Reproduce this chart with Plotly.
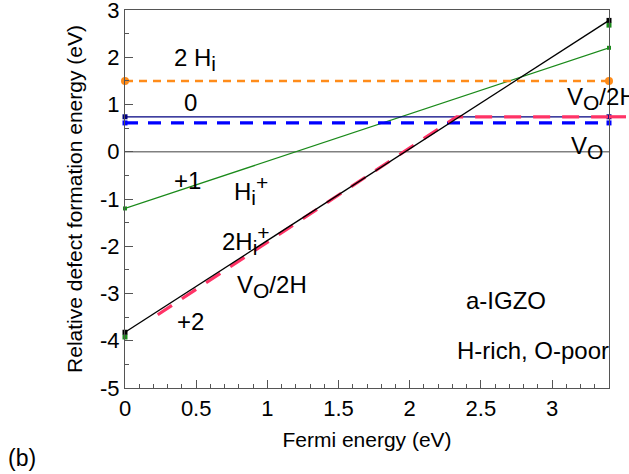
import plotly.graph_objects as go

# ---- data ----
x_range = [0.0, 3.4]
x_ext = 3.55                     # pink V_O/2H line runs past the frame

vo_neutral_y = [0.0, 0.0]        # V_O (0)
vo_plus2_y = [-3.82, 2.78]       # V_O (+2)
hi_plus_y = [-1.2, 2.2]          # H_i (+1)
two_hi_plus_y = [-3.92, 2.68]    # 2H_i (+) end points
two_hi_y = [1.5, 1.5]            # 2 H_i (neutral)
hi_neutral_y = [0.74, 0.74]      # H_i (0)
vo2h_neutral_y = [0.61, 0.61]    # V_O/2H (0)

vo2h_x = [0.23, 2.33, 3.4]       # V_O/2H (+2 then 0)
vo2h_y = [-3.45, 0.74, 0.74]

x_ticks = [0, 0.5, 1, 1.5, 2, 2.5, 3]
y_ticks = [-5, -4, -3, -2, -1, 0, 1, 2, 3]

FONT = "Liberation Sans, Arial, sans-serif"
LS = 24  # label font size

def sub(t):
    return f'<sub><span style="font-size:{LS-3}px">{t}</span></sub>'

def sup(t):
    return f'<sup><span style="font-size:{LS-3}px">{t}</span></sup>'

fig = go.Figure()

def add(x, y, color, width, dash="solid", msize=4, msym="square"):
    fig.add_trace(go.Scatter(
        x=x, y=y, mode="lines+markers" if msize else "lines",
        line=dict(color=color, width=width, dash=dash),
        marker=dict(color=color, size=msize, symbol=msym),
        cliponaxis=False, showlegend=False, hoverinfo="skip"))

add(x_range, vo_neutral_y, "#808080", 1.3, msize=0)
add(x_range, hi_plus_y, "#1a8a1a", 1.3)
fig.add_trace(go.Scatter(x=x_range, y=two_hi_plus_y, mode="markers",
                         marker=dict(color="#1a8a1a", size=5, symbol="square"),
                         cliponaxis=False, showlegend=False, hoverinfo="skip"))
add(x_range, two_hi_y, "#ff8c1a", 2.5, dash="8px,6px", msize=8, msym="circle")
add(x_range, hi_neutral_y, "#000080", 1.3, msize=5)
add(x_range, vo2h_neutral_y, "#0000ff", 3.2, dash="13px,10px", msize=5)
fig.add_trace(go.Scatter(x=vo2h_x, y=vo2h_y, mode="lines",
                         line=dict(color="#ff3366", width=3.2, dash="17px,12px"),
                         showlegend=False, hoverinfo="skip"))
add(x_range, vo_plus2_y, "#000000", 1.3, msize=5)

# pink line continues past the right frame
fig.add_shape(type="line", xref="paper", yref="y", x0=1.0,
              x1=1.0 + (x_ext - x_range[1]) / (x_range[1] - x_range[0]),
              y0=vo2h_y[-1], y1=vo2h_y[-1], line=dict(color="#ff3366", width=3.2, dash="17px,12px"))

ann = [
    ("2 H" + sub("i"), 0.33, 1.95),
    ("0", 0.40, 1.04),
    ("+1", 0.33, -0.6),
    ("H" + sub("i") + sup("+"), 0.75, -0.8),
    ("2H" + sub("i") + sup("+"), 0.67, -1.86),
    ("V" + sub("O") + "/2H", 0.77, -2.85),
    ("+2", 0.35, -3.6),
    ("V" + sub("O") + "/2H", 3.09, 1.12),
    ("V" + sub("O"), 3.12, 0.1),
    ("a-IGZO", 2.38, -3.15),
    ("H-rich, O-poor", 2.32, -4.2),
]
for t, ax_, ay_ in ann:
    fig.add_annotation(x=ax_, y=ay_, text=t, showarrow=False, xanchor="left", yanchor="middle",
                       font=dict(family=FONT, size=LS, color="black"))

fig.add_annotation(x=(22 - 125) / 484, y=(474 - 458 - 86) / 378, xref="paper", yref="paper",
                   text="(b)", showarrow=False, xanchor="center", yanchor="middle",
                   font=dict(family=FONT, size=23, color="black"))

axis_common = dict(showgrid=False, zeroline=False, showline=True, linecolor="#555555", linewidth=1.2,
                   mirror=True, ticks="inside", ticklen=8, tickwidth=1, tickcolor="#555555",
                   automargin=False, ticklabeloverflow="allow",
                   tickfont=dict(family=FONT, size=22, color="black"))

fig.update_xaxes(range=x_range, tickvals=x_ticks, ticktext=[f"{v:g}" for v in x_ticks],
                 minor=dict(dtick=0.1, ticks="inside", ticklen=4, tickcolor="#555555"),
                 title=dict(text="Fermi energy (eV)", font=dict(family=FONT, size=21, color="black"), standoff=12),
                 **axis_common)
fig.update_yaxes(range=[-5, 3], tickvals=y_ticks, ticktext=[f"{v:g}" for v in y_ticks],
                 minor=dict(dtick=0.5, ticks="inside", ticklen=4, tickcolor="#555555"),
                 title=dict(text="Relative defect formation energy (eV)", font=dict(family=FONT, size=21, color="black"), standoff=11),
                 **axis_common)

fig.update_layout(width=629, height=474, margin=dict(l=125, r=20, t=10, b=86),
                  paper_bgcolor="white", plot_bgcolor="white", font=dict(family=FONT))

fig.write_html("out.html", config={"displayModeBar": False},
               post_script="document.body.style.margin='0';document.body.style.overflow='hidden';")
